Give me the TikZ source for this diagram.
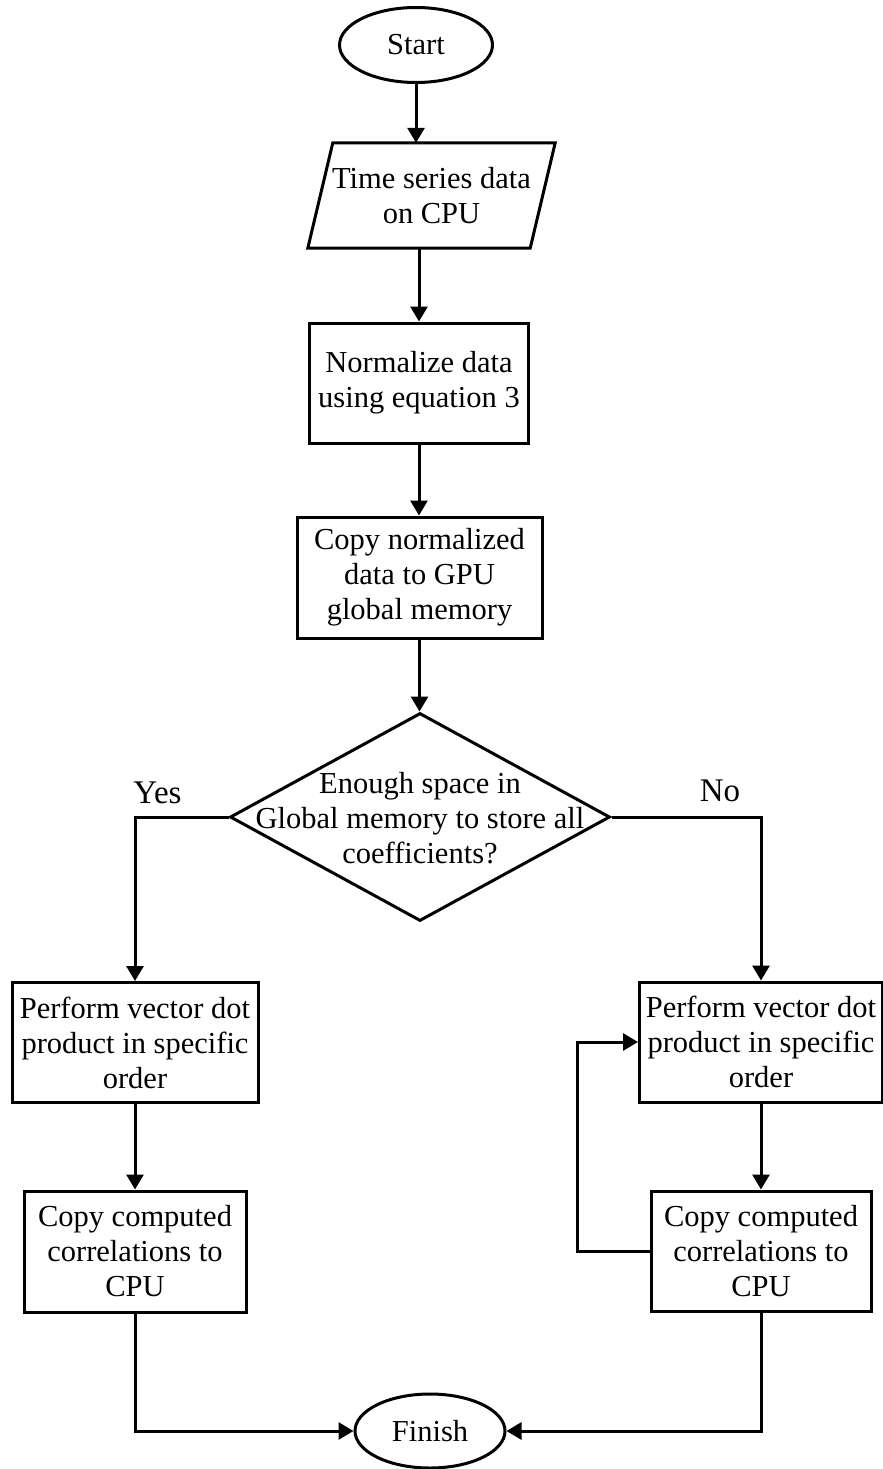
\documentclass[tikz,border=0pt]{standalone}
\usepackage{fontspec}
\setmainfont{Liberation Serif}
\usetikzlibrary{shapes.geometric,arrows.meta,calc}
\begin{document}
\begin{tikzpicture}[x=1pt,y=-1pt,
  every node/.style={font=\fontsize{30.5}{35}\selectfont},
  boxnode/.style={draw, line width=3pt, rectangle, align=center, inner sep=0pt, minimum height=120pt},
  term/.style={draw, line width=3pt, ellipse, inner sep=0pt},
  conn/.style={line width=3pt, -{Triangle[length=15pt,width=17pt]}},
  lbl/.style={anchor=base, inner sep=0pt, font=\fontsize{33}{38}\selectfont}]
\useasboundingbox (0,0) rectangle (883,1469);

\node[term, minimum width=153pt, minimum height=75pt] (start) at (416,45) {Start};
\node[inner sep=0pt, minimum width=222pt, minimum height=105pt, align=center] (data) at (431.5,195.5) {Time series data\\on CPU};
\draw[line width=3pt, line join=miter] ($(data.north west)+(12.5,0)$) -- ($(data.north east)+(12.5,0)$) -- ($(data.south east)+(-12.5,0)$) -- ($(data.south west)+(-12.5,0)$) -- cycle;
\node[boxnode, minimum width=219pt] (norm) at (419,383) {Normalize data\\using equation 3};
\node[boxnode, minimum width=245pt, minimum height=121pt] (copy) at (419.5,577.5) {Copy normalized\\data to GPU\\global memory};
\node[draw, line width=3pt, diamond, minimum width=380pt, minimum height=208pt, inner sep=0pt, line join=miter] (dec) at (420,817) {};
\node[align=center, inner sep=0pt] (dect) at (420,818) {Enough space in\\Global memory to store all\\coefficients?};
\node[lbl] (yes) at (157.5,803) {Yes};
\node[lbl] (no) at (720,801) {No};
\node[boxnode, minimum width=246pt] (pl) at (135,1042.5) {Perform vector dot\\product in specific\\order};
\node[boxnode, minimum width=222pt, minimum height=121pt] (cl) at (135,1251.5) {Copy computed\\correlations to\\CPU};
\node[boxnode, minimum width=243pt] (pr) at (761,1042) {Perform vector dot\\product in specific\\order};
\node[boxnode, minimum width=220pt] (cr) at (761,1251) {Copy computed\\correlations to\\CPU};
\node[term, minimum width=150pt, minimum height=74pt] (fin) at (430,1431) {Finish};

\draw[conn] (start.south) -- (start.south |- data.north);
\draw[conn] (norm.north |- data.south) -- (norm.north);
\draw[conn] (norm.south) -- (norm.south |- copy.north);
\draw[conn] (copy.south) -- (copy.south |- dec.north);
\draw[conn] (dec.west) -| (pl.north);
\draw[conn] (dec.east) -| (pr.north);
\draw[conn] (pl.south) -- (cl.north);
\draw[conn] (pr.south) -- (cr.north);
\draw[conn] (cr.west) -- ++(-72,0) |- (pr.west);
\draw[conn] (cl.south) |- (fin.west);
\draw[conn] (cr.south) |- (fin.east);
\end{tikzpicture}
\end{document}
